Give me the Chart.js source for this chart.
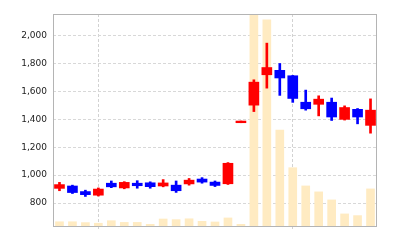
<!DOCTYPE html>
<html>
<head>
<meta charset="utf-8">
<script src="https://cdn.jsdelivr.net/npm/chart.js@4/dist/chart.umd.min.js"></script>
<style>
  html, body { margin: 0; padding: 0; background: #fff; }
  #wrap { width: 400px; height: 240px; }
</style>
</head>
<body>
<div id="wrap"><canvas id="c" width="400" height="240"></canvas></div>
<script>
// daily candles (labels are not shown on the axis)
const days = ['1','2','3','4','5','6','7','8','9','10','11','12','13',
              '14','15','16','17','18','19','20','21','22','23','24','25'];
const opens  = [905, 922, 882, 856, 942, 908, 942, 945, 922, 928, 937, 972, 950,
                938, 1376, 1502, 1720, 1752, 1713, 1523, 1508, 1523, 1400, 1472, 1357];
const closes = [932, 875, 860, 900, 916, 948, 924, 917, 944, 888, 964, 950, 926,
                1085, 1388, 1667, 1772, 1697, 1550, 1476, 1545, 1417, 1485, 1417, 1466];
const highs  = [948, 928, 892, 908, 958, 953, 960, 952, 968, 958, 976, 982, 958,
                1090, 1388, 1684, 1947, 1801, 1715, 1610, 1569, 1553, 1497, 1478, 1547];
const lows   = [888, 868, 847, 850, 910, 902, 906, 906, 916, 876, 928, 942, 918,
                933, 1376, 1456, 1624, 1572, 1522, 1466, 1425, 1392, 1395, 1368, 1301];
const volumes = [20, 20, 16, 13, 25, 17, 17, 8, 33, 30, 34, 22, 19,
                 38, 8, 1080, 972, 453, 275, 189, 161, 123, 57, 49, 175];
const yTicks = [800, 1000, 1200, 1400, 1600, 1800, 2000];
const xGridDays = [3, 18];

const UP = '#ff0000', DOWN = '#0000ff';
const candleColor = ctx => closes[ctx.dataIndex] >= opens[ctx.dataIndex] ? UP : DOWN;

const framePlugin = {
  id: 'frame',
  afterDraw(chart) {
    const { ctx, chartArea: a } = chart;
    ctx.save();
    ctx.strokeStyle = '#b4b4b4';
    ctx.lineWidth = 1;
    ctx.strokeRect(a.left + 0.5, a.top + 0.5, a.right - a.left - 1, a.bottom - a.top);
    ctx.restore();
  }
};

new Chart(document.getElementById('c'), {
  type: 'bar',
  data: {
    labels: days,
    datasets: [
      {
        label: 'Volume',
        data: volumes,
        yAxisID: 'yv',
        backgroundColor: '#ffebc2',
        barThickness: 8,
        order: 3
      },
      {
        label: 'Wick',
        data: days.map((d, i) => [lows[i], highs[i]]),
        backgroundColor: candleColor,
        barThickness: 2,
        order: 2
      },
      {
        label: 'Body',
        data: days.map((d, i) => [opens[i], closes[i]]),
        backgroundColor: candleColor,
        barThickness: 10,
        order: 1
      }
    ]
  },
  options: {
    responsive: false,
    animation: false,
    layout: { padding: { left: 0, right: 23, top: 14, bottom: 0 } },
    datasets: { bar: { grouped: false, borderWidth: 0 } },
    plugins: { legend: { display: false }, tooltip: { enabled: false } },
    scales: {
      x: {
        grid: {
          offset: false,
          tickLength: 3,
          color: c => xGridDays.includes(c.index) ? '#d2d2d2' : 'rgba(0,0,0,0)'
        },
        border: { display: false, dash: [3, 2] },
        ticks: { callback: () => '', autoSkip: false, maxRotation: 0 },
        afterFit: s => { s.height = 14; }
      },
      y: {
        min: 635,
        max: 2156,
        afterBuildTicks: s => { s.ticks = yTicks.map(v => ({ value: v })); },
        grid: { color: '#d8d8d8', drawTicks: false },
        border: { display: false, dash: [3, 2] },
        ticks: {
          padding: 6,
          color: '#222',
          font: { family: 'DejaVu Sans', size: 9 },
          callback: v => v.toLocaleString('en-US')
        },
        afterFit: s => { s.width = 53; }
      },
      yv: {
        display: false,
        min: 0,
        max: 1000
      }
    }
  },
  plugins: [framePlugin]
});
</script>
</body>
</html>
